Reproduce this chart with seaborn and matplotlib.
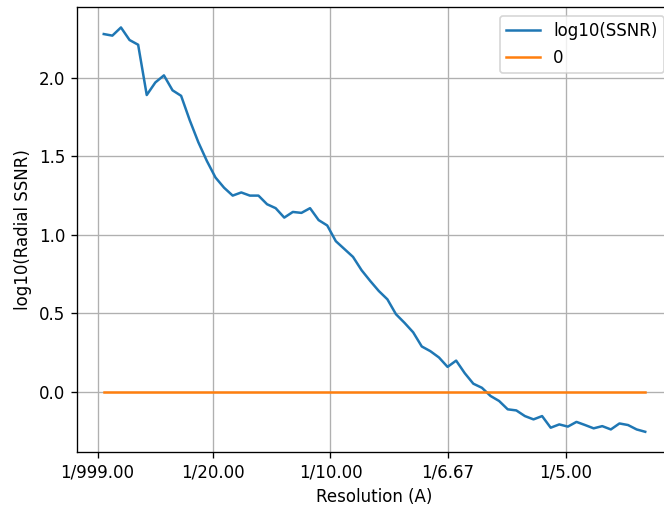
import numpy as np
import pandas as pd
import matplotlib
matplotlib.use("Agg")
import matplotlib.pyplot as plt
import seaborn as sns

# spatial frequency step (1/A) and radial SSNR values (log10)
freq_step = 0.003653
ssnr_log10 = [
    2.278, 2.268, 2.32, 2.24, 2.21, 1.89, 1.97, 2.015, 1.92, 1.885,
    1.73, 1.59, 1.47, 1.365, 1.30, 1.25, 1.27, 1.25, 1.25, 1.195,
    1.17, 1.11, 1.146, 1.14, 1.17, 1.094, 1.06, 0.96, 0.91, 0.86,
    0.775, 0.707, 0.643, 0.59, 0.495, 0.44, 0.38, 0.29, 0.26, 0.22,
    0.16, 0.20, 0.12, 0.053, 0.027, -0.025, -0.057, -0.11, -0.117, -0.153,
    -0.174, -0.153, -0.227, -0.206, -0.22, -0.19, -0.21, -0.231, -0.217, -0.238,
    -0.20, -0.21, -0.238, -0.253,
]
freqs = [freq_step * (i + 1) for i in range(len(ssnr_log10))]
zero_line = [0.0] * len(ssnr_log10)

tick_res = [999.0, 20.0, 10.0, 6.67, 5.0]
tick_pos = [1.0 / r for r in tick_res]
tick_labels = ["1/%.2f" % r for r in tick_res]

df = pd.DataFrame({"freq": freqs, "ssnr": ssnr_log10, "zero": zero_line})

DPI = 120
fig = plt.figure(figsize=(664 / DPI, 506 / DPI), dpi=DPI)
ax = fig.add_axes([0.1155, 0.1067, 0.897, 0.879])

sns.lineplot(data=df, x="freq", y="ssnr", ax=ax, color="#1f77b4",
             label="log10(SSNR)", linewidth=1.5)
sns.lineplot(data=df, x="freq", y="zero", ax=ax, color="#ff7f0e",
             label="0", linewidth=1.5)

ax.set_xticks(tick_pos)
ax.set_xticklabels(tick_labels)
ax.set_xlabel("Resolution (A)")
ax.set_ylabel("log10(Radial SSNR)")
ax.grid(True, color="#b0b0b0", linewidth=0.8)
ax.legend(loc="upper right")

fig.savefig("out.png", dpi=DPI)
